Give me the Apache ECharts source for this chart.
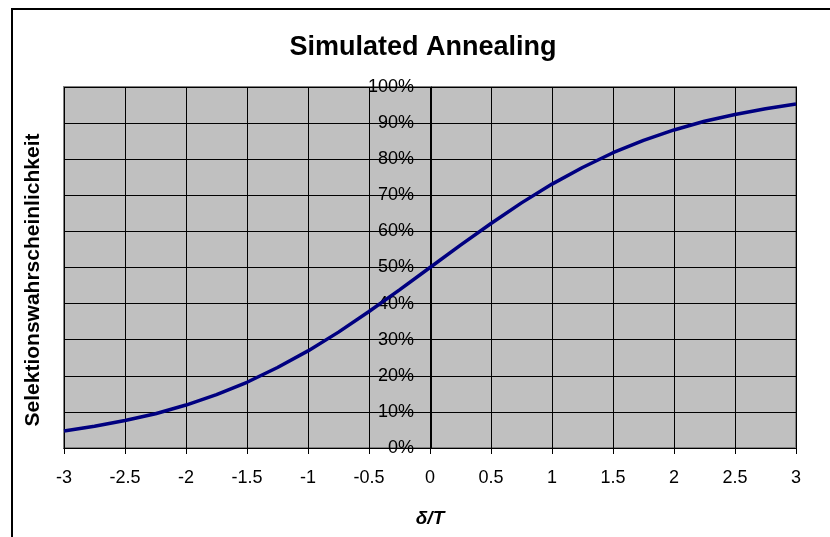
<!DOCTYPE html>
<html>
<head>
<meta charset="utf-8">
<script src="https://cdn.jsdelivr.net/npm/echarts@6/dist/echarts.min.js"></script>
<style>
html,body{margin:0;padding:0;background:#fff;}
#chart{width:830px;height:537px;}
</style>
</head>
<body>
<div id="chart"></div>
<script>
const titleText = 'Simulated Annealing';
const xName = 'δ/T';
const yName = 'Selektionswahrscheinlichkeit';
const xValues = [-3, -2.75, -2.5, -2.25, -2, -1.75, -1.5, -1.25, -1, -0.75, -0.5, -0.25, 0, 0.25, 0.5, 0.75, 1, 1.25, 1.5, 1.75, 2, 2.25, 2.5, 2.75, 3];
const yValues = [0.047, 0.060, 0.076, 0.095, 0.119, 0.148, 0.182, 0.223, 0.269, 0.321, 0.378, 0.438, 0.5, 0.562, 0.622, 0.679, 0.731, 0.777, 0.818, 0.852, 0.881, 0.905, 0.924, 0.940, 0.953];

const chart = echarts.init(document.getElementById('chart'), null, {renderer: 'canvas'});
const font = 'Liberation Sans, Arial, sans-serif';
const gridLeft = 64;
chart.setOption({
  animation: false,
  backgroundColor: '#fff',
  title: {
    text: titleText,
    left: 418, top: 29, textAlign: 'center',
    textStyle: {fontFamily: font, fontSize: 27, fontWeight: 'bold', color: '#000'}
  },
  graphic: [
    {type: 'rect', shape: {x: 12, y: 9, width: 900, height: 600}, style: {fill: 'none', stroke: '#000', lineWidth: 2}, z: 100},
    {type: 'text', x: 33, y: 280, rotation: Math.PI / 2, style: {text: yName, fontFamily: font, fontSize: 21, fontWeight: 'bold', fill: '#000', textAlign: 'center', textVerticalAlign: 'middle'}},
    {type: 'text', x: 430, y: 519, style: {text: xName, fontFamily: font, fontSize: 19, fontWeight: 'bold', fontStyle: 'italic', fill: '#000', textAlign: 'center', textVerticalAlign: 'middle'}}
  ],
  grid: {
    left: gridLeft, right: 34, top: 87, bottom: 89,
    show: true, backgroundColor: '#C0C0C0', borderColor: '#808080', borderWidth: 2
  },
  xAxis: {
    type: 'value', min: -3, max: 3, interval: 0.5,
    axisLine: {show: true, onZero: false, lineStyle: {color: '#000', width: 1}},
    axisTick: {show: true, length: 6, lineStyle: {color: '#000'}},
    axisLabel: {margin: 21, fontFamily: font, fontSize: 18, color: '#000'},
    splitLine: {show: true, lineStyle: {color: '#000', width: 1}}
  },
  yAxis: {
    type: 'value', min: 0, max: 1, interval: 0.1, position: 'left', offset: 0,
    axisLine: {show: true, onZero: false, lineStyle: {color: '#000', width: 1}},
    axisTick: {show: true, length: 12, lineStyle: {color: '#000'}},
    axisLabel: {margin: 17, fontFamily: font, fontSize: 18, color: '#000',
      formatter: v => Math.round(v * 100) + '%'},
    splitLine: {show: true, lineStyle: {color: '#000', width: 1}}
  },
  series: [{
    type: 'line',
    data: xValues.map((x, i) => [x, yValues[i]]),
    showSymbol: false,
    lineStyle: {color: '#000080', width: 3.5},
    z: 5
  }]
});
// place the y axis where x = 0, using the library's own scale
const zeroX = chart.convertToPixel({xAxisIndex: 0}, 0);
chart.setOption({yAxis: {offset: -(zeroX - gridLeft)}});
</script>
</body>
</html>
